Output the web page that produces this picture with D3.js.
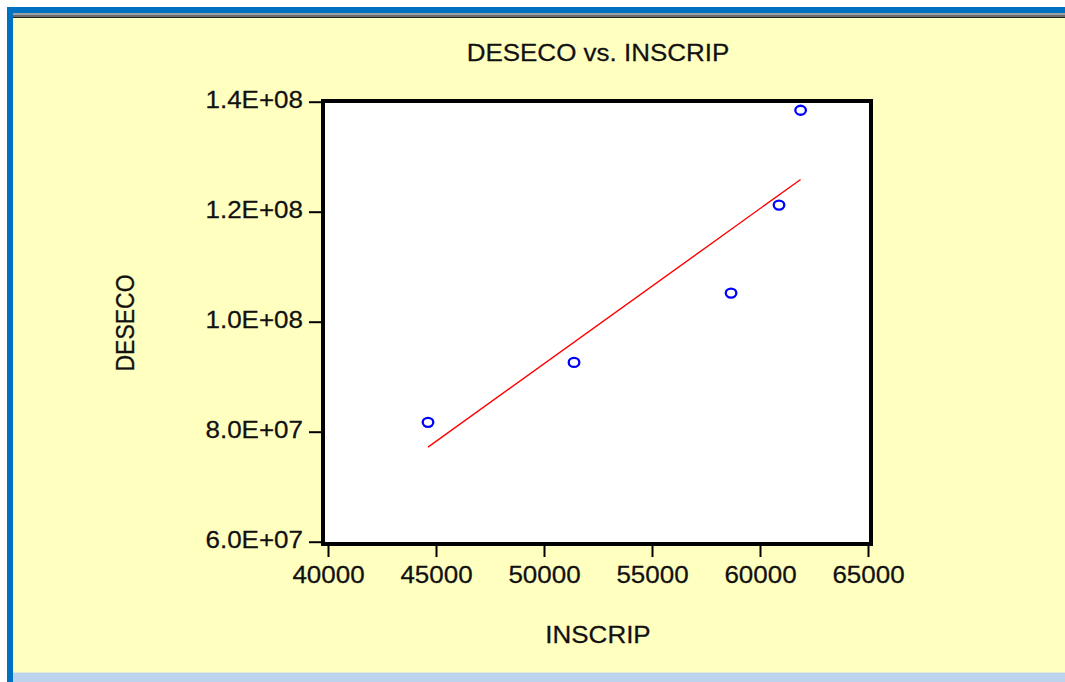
<!DOCTYPE html>
<html>
<head>
<meta charset="utf-8">
<script src="https://cdn.jsdelivr.net/npm/d3@7"></script>
<style>
    html, body { margin: 0; padding: 0; background: #fff; }
    svg { display: block; }
    text { font-family: "Liberation Sans", Arial, sans-serif; fill: #111; }
</style>
</head>
<body>
<div id="chart"></div>
<script>
// values
const inscrip = [44630, 51390, 58660, 60880, 61880];
const deseco = [8.17e7, 9.26e7, 1.052e8, 1.212e8, 1.3845e8];

const xTicks = [40000, 45000, 50000, 55000, 60000, 65000];
const yTicks = [6e7, 8e7, 1e8, 1.2e8, 1.4e8];
const yTickLabels = ["6.0E+07", "8.0E+07", "1.0E+08", "1.2E+08", "1.4E+08"];

const title = "DESECO vs. INSCRIP";
const xTitle = "INSCRIP";
const yTitle = "DESECO";

const W = 1065, H = 682;
const stretch = 1.13; // text in the shot is a bit wider than tall

const svg = d3.select("#chart").append("svg")
    .attr("width", W)
    .attr("height", H);

// window chrome
svg.append("rect").attr("x", 0).attr("y", 0).attr("width", W).attr("height", H).attr("fill", "#fff");
svg.append("rect").attr("x", 7).attr("y", 7).attr("width", W - 7).attr("height", H - 7).attr("fill", "#0070c0");
svg.append("rect").attr("x", 13).attr("y", 13).attr("width", W - 13).attr("height", H - 13).attr("fill", "#ffffc0");
svg.append("rect").attr("x", 13).attr("y", 13).attr("width", W - 13).attr("height", 2).attr("fill", "#a0a0a0");
svg.append("rect").attr("x", 13).attr("y", 15).attr("width", W - 13).attr("height", 2).attr("fill", "#6a6a6a");
svg.append("rect").attr("x", 13).attr("y", 17).attr("width", W - 13).attr("height", 1).attr("fill", "#222");
svg.append("rect").attr("x", 13).attr("y", 672).attr("width", W - 13).attr("height", 1).attr("fill", "#e4ead6");
svg.append("rect").attr("x", 13).attr("y", 673).attr("width", W - 13).attr("height", H - 673).attr("fill", "#bcd3ee");

// scales
const x = d3.scaleLinear().domain([40000, 65000]).range([328, 868]);
const y = d3.scaleLinear().domain([6e7, 1.4e8]).range([541.7, 101.7]);

// plot frame
const frame = {left: 323, top: 101, right: 871, bottom: 544};
svg.append("rect")
    .attr("x", frame.left)
    .attr("y", frame.top)
    .attr("width", frame.right - frame.left)
    .attr("height", frame.bottom - frame.top)
    .attr("fill", "#fff")
    .attr("stroke", "#000")
    .attr("stroke-width", 4);

// axes
const yAxis = svg.append("g")
    .attr("transform", `translate(${frame.left - 2},0)`)
    .call(d3.axisLeft(y)
        .tickValues(yTicks)
        .tickFormat((d, i) => yTickLabels[i])
        .tickSize(12)
        .tickSizeOuter(0));
yAxis.select(".domain").remove();
yAxis.selectAll(".tick line").attr("stroke", "#000").attr("stroke-width", 2);
yAxis.selectAll(".tick text")
    .attr("x", -18 / stretch)
    .attr("dy", "0.26em")
    .attr("transform", `scale(${stretch},1)`)
    .style("font-size", "23px")
    .style("font-family", "'Liberation Sans', Arial, sans-serif")
    .attr("fill", "#111")
    .attr("stroke", "#111")
    .attr("stroke-width", 0.25);

const xAxis = svg.append("g")
    .attr("transform", `translate(0,${frame.bottom + 2})`)
    .call(d3.axisBottom(x)
        .tickValues(xTicks)
        .tickFormat(d3.format("d"))
        .tickSize(11)
        .tickSizeOuter(0));
xAxis.select(".domain").remove();
xAxis.selectAll(".tick line").attr("stroke", "#000").attr("stroke-width", 2);
xAxis.selectAll(".tick text")
    .attr("y", 37)
    .attr("dy", 0)
    .attr("transform", `scale(${stretch},1)`)
    .style("font-size", "23px")
    .style("font-family", "'Liberation Sans', Arial, sans-serif")
    .attr("fill", "#111")
    .attr("stroke", "#111")
    .attr("stroke-width", 0.25);

// titles
const titles = [
    {text: title, t: `translate(598,61) scale(${stretch},1)`},
    {text: xTitle, t: `translate(598,643) scale(${stretch},1)`},
    {text: yTitle, t: `translate(134,323) scale(${stretch},1) rotate(-90)`}
];
svg.selectAll("text.title")
    .data(titles)
    .enter()
    .append("text")
        .classed("title", true)
        .attr("transform", d => d.t)
        .attr("text-anchor", "middle")
        .attr("stroke", "#111")
        .attr("stroke-width", 0.25)
        .style("font-size", "23px")
        .text(d => d.text);

// least squares fit over the data range
const mx = d3.mean(inscrip), my = d3.mean(deseco);
const sxy = d3.sum(inscrip, (v, i) => (v - mx) * (deseco[i] - my));
const sxx = d3.sum(inscrip, v => (v - mx) * (v - mx));
const slope = sxy / sxx;
const intercept = my - slope * mx;
const xExt = d3.extent(inscrip);

svg.append("path")
    .datum(xExt.map(v => [v, intercept + slope * v]))
    .attr("d", d3.line().x(d => x(d[0])).y(d => y(d[1])))
    .attr("fill", "none")
    .attr("stroke", "#ff0000")
    .attr("stroke-width", 1.4);

// points
svg.append("g").selectAll("ellipse")
    .data(inscrip.map((v, i) => ({x: v, y: deseco[i]})))
    .enter()
    .append("ellipse")
        .attr("cx", d => x(d.x))
        .attr("cy", d => y(d.y))
        .attr("rx", 5.3)
        .attr("ry", 4.5)
        .attr("fill", "none")
        .attr("stroke", "#0000ff")
        .attr("stroke-width", 2.3);
</script>
</body>
</html>
